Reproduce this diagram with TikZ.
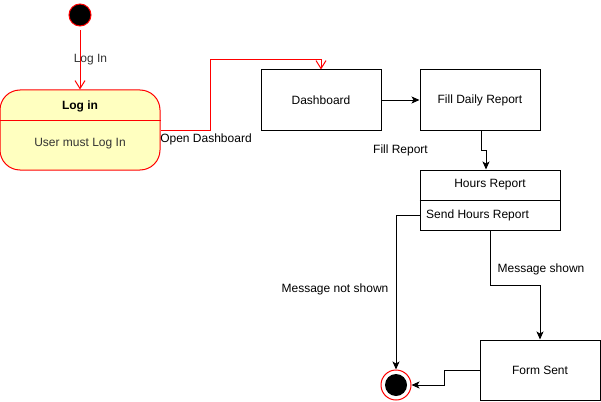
\documentclass[tikz,border=0pt]{standalone}
\usepackage{fontspec}
\setmainfont{Liberation Sans}
\usetikzlibrary{arrows.meta}
\definecolor{stred}{HTML}{FF0000}
\definecolor{styellow}{HTML}{FFFFC0}
\definecolor{txtgray}{HTML}{333333}
\begin{document}
\begin{tikzpicture}[x=1pt,y=-1pt,
  every node/.style={font=\fontsize{12}{14}\selectfont, inner sep=0pt},
  box/.style={draw=black, line width=1pt, minimum width=120pt, minimum height=60pt, fill=white},
  redarrow/.style={draw=stred, line width=1pt, -{Straight Barb[length=8pt,width=10pt]}},
  blkarrow/.style={draw=black, line width=1pt, -{Stealth[length=8pt,width=7pt,inset=2pt]}},
  lbl/.style={text=txtgray}
]
\useasboundingbox (0,0) rectangle (601,401);
\fill[white] (0,0) rectangle (601,401);

% initial state
\node[circle, fill=black, draw=stred, line width=1pt, minimum size=22pt] (init) at (80,15) {};

% Log in state
\node[draw=stred, fill=styellow, line width=1pt, rounded corners=20pt,
      minimum width=160pt, minimum height=80pt] (login) at (80,130) {};
\draw[stred, line width=1pt] (login.west |- 0,120) -- (login.east |- 0,120);
\node[font=\fontsize{12}{14}\selectfont\bfseries] (logintitle) at (80,106) {Log in};
\node[text=txtgray] (logintext) at (80,144) {User must Log In};

% boxes
\node[box] (dash) at (321,100) {Dashboard};
\node[box] (fill) at (480,100) {Fill Daily Report};
\node[box, minimum width=140pt] (hours) at (490,200) {};
\draw[line width=1pt] (hours.west) -- (hours.east);
\node (hourstitle) at (490,185) {Hours Report};
\node[anchor=west] (send) at (426,215) {Send Hours Report};
\node[box] (form) at (540,370) {Form Sent};

% final state
\node[circle, draw=stred, fill=white, line width=1pt, minimum size=30pt] (final) at (396,385) {};
\node[circle, fill=black, minimum size=22pt] (finalin) at (396,385) {};

% connectors
\draw[redarrow, shorten <=4pt] (init) -- (login.north);
\node[lbl] (lLogIn) at (90.5,60) {Log In};

\coordinate (od1) at (210,60);
\draw[redarrow] (login.east) -| (od1) -| (dash.north);
\node (lOpen) at (206,139) {Open Dashboard};

\draw[blkarrow] (dash.east) -- (fill.west);

\coordinate (fr1) at (481,150);
\draw[line width=1pt] (fill.south -| fr1) -- (fr1) -- (486,150);
\draw[blkarrow] (486,150) -- (hours.north -| 486,0);
\node (lFill) at (400.5,150) {Fill Report};

\draw[blkarrow] (hours.west |- send) -| (final.north);
\node (lNot) at (335,289) {Message not shown};

\draw[blkarrow] (hours.south) -- ++(0,55) -| (form.north);
\node (lShown) at (541,269) {Message shown};

\draw[blkarrow] (form.west) -- ++(-35,0) |- (final.east);
\end{tikzpicture}
\end{document}
